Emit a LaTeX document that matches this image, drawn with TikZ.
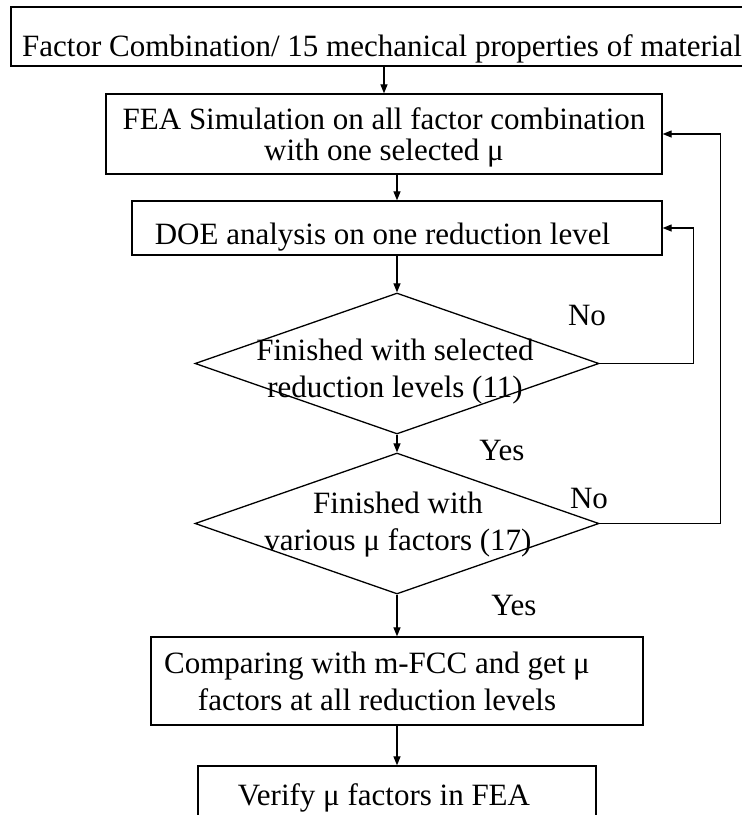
\documentclass[tikz,border=0pt]{standalone}
\usepackage{fontspec}
\setmainfont{Liberation Serif}
\usetikzlibrary{arrows.meta,shapes.geometric}
\newcommand\fs{\fontsize{31}{37}\selectfont}
\newcommand\fst{\fontsize{31}{31}\selectfont}
\begin{document}
\begin{tikzpicture}[x=1pt,y=-1pt,
  box/.style={draw,line width=1.3pt,rectangle,inner sep=0pt,align=center,font=\fs},
  dia/.style={draw,line width=1.3pt,diamond,inner sep=0pt,minimum width=404pt,minimum height=141pt},
  txt/.style={inner sep=0pt,align=center,font=\fs},
  arr/.style={line width=1.2pt,-{Triangle[length=9pt,width=7pt]}}]
\useasboundingbox (0,0) rectangle (742,815);
% boxes: content struts fix the baselines
\node[box,minimum width=742pt] (n1) at (382,36.5)
  {\rule{0pt}{49pt}Factor Combination/ 15 mechanical properties of material\rule[-10pt]{0pt}{10pt}};
\node[box,font=\fst,minimum width=556pt] (n2) at (384,134)
  {\rule{0pt}{35pt}FEA Simulation on all factor combination\\with one selected μ\rule[-14pt]{0pt}{14pt}};
\node[box,minimum width=530pt] (n3) at (397,228)
  {\rule{0pt}{43pt}DOE analysis on one reduction level\hspace*{29pt}\rule[-11pt]{0pt}{11pt}};
\node[dia] (d1) at (397,363.5) {};
\node[txt,anchor=north] (d1t) at (395,335) {\rule{0pt}{25pt}Finished with selected\\reduction levels (11)};
\node[dia] (d2) at (397,523.5) {};
\node[txt,anchor=north] (d2t) at (398,488) {\rule{0pt}{25pt}Finished with\\various μ factors (17)};
\node[box,minimum width=492pt] (n4) at (397,681)
  {\rule{0pt}{36pt}Comparing with m-FCC and get μ\hspace*{40pt}\\factors at all reduction levels\hspace*{40pt}\rule[-15pt]{0pt}{15pt}};
\node[box,minimum width=398pt] (n5) at (397,798)
  {\rule{0pt}{39pt}Verify μ factors in FEA\hspace*{26pt}\rule[-25pt]{0pt}{25pt}};
% branch labels
\node[txt,anchor=base] (no1) at (587,325) {No};
\node[txt,anchor=base] (yes1) at (502,460) {Yes};
\node[txt,anchor=base] (no2) at (589,508) {No};
\node[txt,anchor=base] (yes2) at (514,615) {Yes};
% connectors
\draw[arr] (n1.south -| n2.north) -- (n2.north);
\draw[arr] (n2.south -| n3.north) -- (n3.north);
\draw[arr] (n3.south) -- (d1.north);
\draw[arr] (d1.south) -- (d2.north);
\draw[arr] (d2.south) -- (n4.north);
\draw[arr] (n4.south) -- (n5.north);
\draw[arr] (d1.east) -- ++(94,0) |- (n3.east);
\draw[arr] (d2.east) -- ++(121,0) |- (n2.east);
\end{tikzpicture}
\end{document}
